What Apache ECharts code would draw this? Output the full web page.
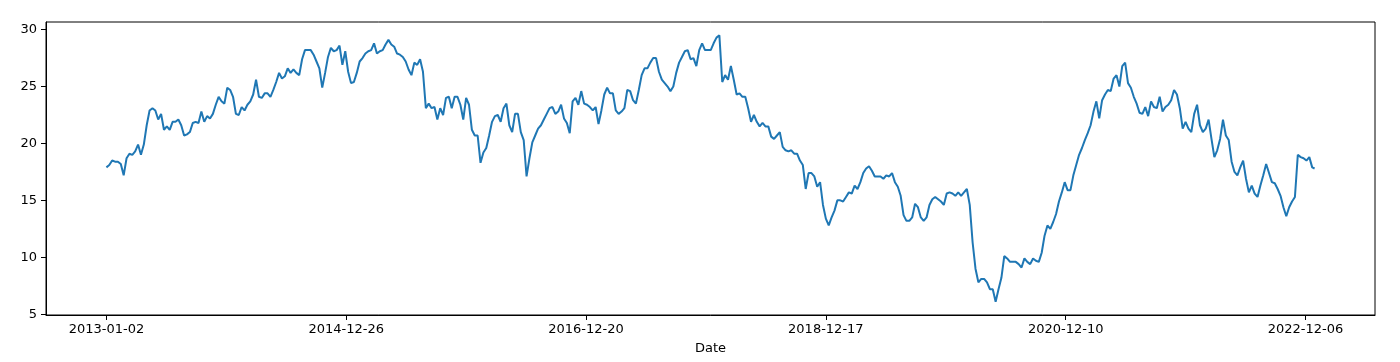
<!DOCTYPE html>
<html><head><meta charset="utf-8">
<script src="https://cdn.jsdelivr.net/npm/echarts@6/dist/echarts.min.js"></script>
<style>html,body{margin:0;padding:0;background:#fff}#c{width:1400px;height:362px}</style>
</head><body><div id="c"></div>
<script>
// x positions are trading-day indices; ticks every 500 trading days
const tickIndex = [0, 500, 1000, 1500, 2000, 2500];
const tickLabels = ['2013-01-02', '2014-12-26', '2016-12-20', '2018-12-17', '2020-12-10', '2022-12-06'];
const yTicks = [5, 10, 15, 20, 25, 30];
const sampleStep = 6;      // trading days between read samples
const lastIndex = 2519;    // last trading-day index in the series

// values, one every 6 trading days
const values2013_2014 = [17.9,18.1,18.5,18.4,18.4,18.2,17.2,18.7,19.1,19.0,19.3,19.9,19.0,19.9,21.6,22.9,23.1,22.9,22.1,22.6,21.2,21.5,21.2,21.9,21.9,22.1,21.6,20.7,20.8,21.0,21.8,21.9,21.8,22.8,21.9,22.4,22.2,22.6,23.4,24.1,23.7,
23.5,24.9,24.7,24.1,22.6,22.5,23.2,22.9,23.4,23.7,24.3,25.6,24.1,24.0,24.4,24.4,24.1,24.7,25.4,26.2,25.7,25.9,26.6,26.2,26.5,26.2,26.0,27.4,28.2,28.2,28.2,27.8,27.2,26.6,24.9,26.2,27.6,28.4,28.1,28.2,28.6,26.9];
const values2015_2016 = [28.1,26.3,25.3,25.4,26.2,27.2,27.5,27.9,28.1,28.2,28.8,27.9,28.1,28.2,28.7,29.1,28.7,28.5,27.9,27.8,27.6,27.2,26.5,26.0,27.1,26.9,27.4,26.3,23.1,23.5,23.1,23.2,22.1,23.1,22.5,24.0,24.1,23.1,24.1,24.1,23.4,22.1,
24.0,23.4,21.2,20.7,20.7,18.3,19.2,19.6,20.7,21.9,22.4,22.5,21.9,23.1,23.5,21.6,21.0,22.6,22.6,21.0,20.3,17.1,18.7,20.1,20.7,21.3,21.6,22.1,22.6,23.1,23.2,22.6,22.8,23.4,22.2,21.8,20.9,23.7,24.0,23.4,24.6,23.5];
const values2017_2018 = [23.4,23.2,22.9,23.2,21.7,22.9,24.3,24.9,24.4,24.4,22.9,22.6,22.8,23.1,24.7,24.6,23.8,23.5,24.7,26.0,26.6,26.6,27.1,27.5,27.5,26.3,25.6,25.3,25.0,24.6,25.0,26.2,27.1,27.6,28.1,28.2,27.4,27.5,26.8,28.2,28.8,28.2,28.2,
28.2,28.8,29.3,29.5,25.4,26.0,25.6,26.8,25.6,24.3,24.4,24.1,24.1,23.1,21.9,22.5,21.9,21.5,21.8,21.5,21.5,20.6,20.4,20.7,21.0,19.7,19.4,19.3,19.4,19.1,19.1,18.5,18.1,16.0,17.4,17.4,17.1,16.2,16.6,14.6,13.4,12.8];
const values2019_2020 = [13.5,14.1,15.0,15.0,14.9,15.3,15.7,15.6,16.3,16.0,16.6,17.4,17.8,18.0,17.6,17.1,17.1,17.1,16.9,17.2,17.1,17.4,16.6,16.2,15.4,13.7,13.2,13.2,13.5,14.7,14.4,13.5,13.2,13.5,14.6,15.1,15.3,15.1,14.9,14.6,15.6,15.7,15.6,
15.4,15.7,15.4,15.7,16.0,14.6,11.3,9.0,7.8,8.1,8.1,7.8,7.2,7.2,6.1,7.2,8.2,10.1,9.9,9.6,9.6,9.6,9.4,9.1,9.9,9.6,9.4,9.9,9.7,9.6,10.4,11.9,12.8,12.5,13.1,13.8,14.9,15.7,16.6,15.9,15.9,17.2];
const values2021_2022 = [18.1,19.0,19.6,20.3,20.9,21.6,22.8,23.7,22.2,23.8,24.3,24.7,24.6,25.7,26.0,25.0,26.8,27.1,25.3,24.9,24.1,23.5,22.7,22.6,23.2,22.4,23.7,23.2,23.1,24.1,22.8,23.2,23.4,23.8,24.7,24.3,23.1,21.3,21.9,21.3,21.0,22.6,23.4,
21.6,21.0,21.3,22.1,20.4,18.8,19.4,20.4,22.1,20.7,20.3,18.4,17.5,17.2,17.9,18.5,16.9,15.7,16.3,15.6,15.3,16.3,17.2,18.2,17.4,16.6,16.5,16.0,15.4,14.4,13.6,14.4,14.9,15.3,19.0,18.8,18.7,18.5,18.8,17.9,17.8];

const values = [].concat(values2013_2014, values2015_2016, values2017_2018, values2019_2020, values2021_2022);
const data = values.map((v, k) => [Math.min(k * sampleStep, lastIndex), v]);
const yMin = Math.min(...values), yMax = Math.max(...values), yPad = 0.05 * (yMax - yMin);
const font = 'DejaVu Sans';

const chart = echarts.init(document.getElementById('c'), null, {renderer: 'canvas'});
chart.setOption({
  animation: false,
  backgroundColor: '#fff',
  grid: {left: 46, right: 25, top: 22, bottom: 47, show: true, borderColor: '#000', borderWidth: 1, backgroundColor: 'transparent'},
  xAxis: {
    type: 'value', min: -0.05 * lastIndex, max: 1.05 * lastIndex,
    name: 'Date', nameLocation: 'middle', nameGap: 27,
    nameTextStyle: {color: '#000', fontSize: 13, fontFamily: font},
    axisLine: {show: true, onZero: false, lineStyle: {color: '#000', width: 1}},
    axisTick: {show: true, length: 5, lineStyle: {color: '#000', width: 1}, customValues: tickIndex},
    axisLabel: {color: '#000', fontSize: 13, fontFamily: font, margin: 8, customValues: tickIndex,
      formatter: v => tickLabels[tickIndex.indexOf(v)]},
    splitLine: {show: false}
  },
  yAxis: {
    type: 'value', min: yMin - yPad, max: yMax + yPad,
    axisLine: {show: true, onZero: false, lineStyle: {color: '#000', width: 1}},
    axisTick: {show: true, length: 5, lineStyle: {color: '#000', width: 1}, customValues: yTicks},
    axisLabel: {color: '#000', fontSize: 13, fontFamily: font, margin: 9, customValues: yTicks,
      formatter: v => String(v)},
    splitLine: {show: false}
  },
  series: [{
    type: 'line', data: data, showSymbol: false, smooth: false,
    lineStyle: {color: '#1f77b4', width: 2}, itemStyle: {color: '#1f77b4'}
  }]
});
</script>
</body></html>
